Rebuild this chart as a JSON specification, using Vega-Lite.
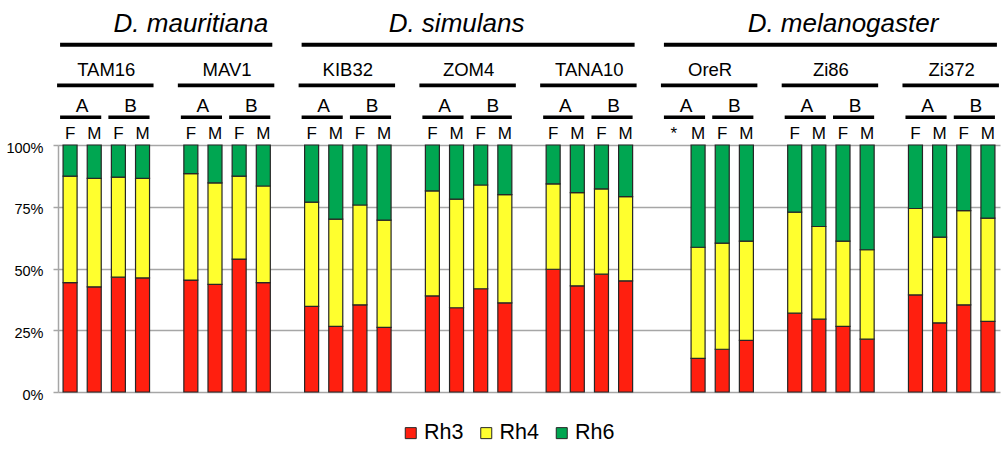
{
  "$schema": "https://vega.github.io/schema/vega-lite/v6.json",
  "padding": {"left": 5, "top": 0, "right": 5, "bottom": 0},
  "background": "white",
  "config": {"view": {"stroke": null}, "font": "Liberation Sans"},
  "datasets": {
    "bars": [
      {"sample": "TAM16 A F", "Rh3": 44.3, "Rh4": 43.1, "Rh6": 12.6},
      {"sample": "TAM16 A M", "Rh3": 42.6, "Rh4": 43.9, "Rh6": 13.5},
      {"sample": "TAM16 B F", "Rh3": 46.5, "Rh4": 40.5, "Rh6": 13.0},
      {"sample": "TAM16 B M", "Rh3": 46.2, "Rh4": 40.3, "Rh6": 13.5},
      {"sample": "MAV1 A F", "Rh3": 45.3, "Rh4": 43.1, "Rh6": 11.6},
      {"sample": "MAV1 A M", "Rh3": 43.6, "Rh4": 41.1, "Rh6": 15.3},
      {"sample": "MAV1 B F", "Rh3": 53.8, "Rh4": 33.6, "Rh6": 12.6},
      {"sample": "MAV1 B M", "Rh3": 44.3, "Rh4": 39.1, "Rh6": 16.6},
      {"sample": "KIB32 A F", "Rh3": 34.7, "Rh4": 42.2, "Rh6": 23.1},
      {"sample": "KIB32 A M", "Rh3": 26.6, "Rh4": 43.4, "Rh6": 30.0},
      {"sample": "KIB32 B F", "Rh3": 35.3, "Rh4": 40.4, "Rh6": 24.3},
      {"sample": "KIB32 B M", "Rh3": 26.2, "Rh4": 43.4, "Rh6": 30.4},
      {"sample": "ZOM4 A F", "Rh3": 38.9, "Rh4": 42.5, "Rh6": 18.6},
      {"sample": "ZOM4 A M", "Rh3": 34.1, "Rh4": 44.0, "Rh6": 21.9},
      {"sample": "ZOM4 B F", "Rh3": 41.8, "Rh4": 42.0, "Rh6": 16.2},
      {"sample": "ZOM4 B M", "Rh3": 36.1, "Rh4": 43.8, "Rh6": 20.1},
      {"sample": "TANA10 A F", "Rh3": 49.7, "Rh4": 34.6, "Rh6": 15.7},
      {"sample": "TANA10 A M", "Rh3": 43.0, "Rh4": 37.7, "Rh6": 19.3},
      {"sample": "TANA10 B F", "Rh3": 47.7, "Rh4": 34.5, "Rh6": 17.8},
      {"sample": "TANA10 B M", "Rh3": 45.0, "Rh4": 34.1, "Rh6": 20.9},
      {"sample": "OreR A M", "Rh3": 13.6, "Rh4": 45.0, "Rh6": 41.4},
      {"sample": "OreR B F", "Rh3": 17.3, "Rh4": 43.0, "Rh6": 39.7},
      {"sample": "OreR B M", "Rh3": 20.9, "Rh4": 40.2, "Rh6": 38.9},
      {"sample": "Zi86 A F", "Rh3": 31.9, "Rh4": 40.9, "Rh6": 27.2},
      {"sample": "Zi86 A M", "Rh3": 29.5, "Rh4": 37.5, "Rh6": 33.0},
      {"sample": "Zi86 B F", "Rh3": 26.6, "Rh4": 34.5, "Rh6": 38.9},
      {"sample": "Zi86 B M", "Rh3": 21.4, "Rh4": 36.2, "Rh6": 42.4},
      {"sample": "Zi372 A F", "Rh3": 39.3, "Rh4": 35.0, "Rh6": 25.7},
      {"sample": "Zi372 A M", "Rh3": 28.0, "Rh4": 34.7, "Rh6": 37.3},
      {"sample": "Zi372 B F", "Rh3": 35.3, "Rh4": 38.1, "Rh6": 26.6},
      {"sample": "Zi372 B M", "Rh3": 28.6, "Rh4": 41.8, "Rh6": 29.6}
    ],
    "species": [
      {"species": "D. mauritiana", "sample": "TAM16 A F", "last": "MAV1 B M", "anchor": "MAV1 A F"},
      {"species": "D. simulans", "sample": "KIB32 A F", "last": "TANA10 B M", "anchor": "ZOM4 A M"},
      {"species": "D. melanogaster", "sample": "OreR A F", "last": "Zi372 B M", "anchor": "Zi86 B F"}
    ],
    "strains": [
      {"strain": "TAM16", "sample": "TAM16 A F", "last": "TAM16 B M"},
      {"strain": "MAV1", "sample": "MAV1 A F", "last": "MAV1 B M"},
      {"strain": "KIB32", "sample": "KIB32 A F", "last": "KIB32 B M"},
      {"strain": "ZOM4", "sample": "ZOM4 A F", "last": "ZOM4 B M"},
      {"strain": "TANA10", "sample": "TANA10 A F", "last": "TANA10 B M"},
      {"strain": "OreR", "sample": "OreR A F", "last": "OreR B M"},
      {"strain": "Zi86", "sample": "Zi86 A F", "last": "Zi86 B M"},
      {"strain": "Zi372", "sample": "Zi372 A F", "last": "Zi372 B M"}
    ],
    "pairs": [
      {"rep": "A", "sample": "TAM16 A F", "last": "TAM16 A M"},
      {"rep": "B", "sample": "TAM16 B F", "last": "TAM16 B M"},
      {"rep": "A", "sample": "MAV1 A F", "last": "MAV1 A M"},
      {"rep": "B", "sample": "MAV1 B F", "last": "MAV1 B M"},
      {"rep": "A", "sample": "KIB32 A F", "last": "KIB32 A M"},
      {"rep": "B", "sample": "KIB32 B F", "last": "KIB32 B M"},
      {"rep": "A", "sample": "ZOM4 A F", "last": "ZOM4 A M"},
      {"rep": "B", "sample": "ZOM4 B F", "last": "ZOM4 B M"},
      {"rep": "A", "sample": "TANA10 A F", "last": "TANA10 A M"},
      {"rep": "B", "sample": "TANA10 B F", "last": "TANA10 B M"},
      {"rep": "A", "sample": "OreR A F", "last": "OreR A M"},
      {"rep": "B", "sample": "OreR B F", "last": "OreR B M"},
      {"rep": "A", "sample": "Zi86 A F", "last": "Zi86 A M"},
      {"rep": "B", "sample": "Zi86 B F", "last": "Zi86 B M"},
      {"rep": "A", "sample": "Zi372 A F", "last": "Zi372 A M"},
      {"rep": "B", "sample": "Zi372 B F", "last": "Zi372 B M"}
    ],
    "samples": [
      {"sample": "TAM16 A F", "sex": "F"}, {"sample": "TAM16 A M", "sex": "M"},
      {"sample": "TAM16 B F", "sex": "F"}, {"sample": "TAM16 B M", "sex": "M"},
      {"sample": "MAV1 A F", "sex": "F"}, {"sample": "MAV1 A M", "sex": "M"},
      {"sample": "MAV1 B F", "sex": "F"}, {"sample": "MAV1 B M", "sex": "M"},
      {"sample": "KIB32 A F", "sex": "F"}, {"sample": "KIB32 A M", "sex": "M"},
      {"sample": "KIB32 B F", "sex": "F"}, {"sample": "KIB32 B M", "sex": "M"},
      {"sample": "ZOM4 A F", "sex": "F"}, {"sample": "ZOM4 A M", "sex": "M"},
      {"sample": "ZOM4 B F", "sex": "F"}, {"sample": "ZOM4 B M", "sex": "M"},
      {"sample": "TANA10 A F", "sex": "F"}, {"sample": "TANA10 A M", "sex": "M"},
      {"sample": "TANA10 B F", "sex": "F"}, {"sample": "TANA10 B M", "sex": "M"},
      {"sample": "OreR A F", "sex": "*"}, {"sample": "OreR A M", "sex": "M"},
      {"sample": "OreR B F", "sex": "F"}, {"sample": "OreR B M", "sex": "M"},
      {"sample": "Zi86 A F", "sex": "F"}, {"sample": "Zi86 A M", "sex": "M"},
      {"sample": "Zi86 B F", "sex": "F"}, {"sample": "Zi86 B M", "sex": "M"},
      {"sample": "Zi372 A F", "sex": "F"}, {"sample": "Zi372 A M", "sex": "M"},
      {"sample": "Zi372 B F", "sex": "F"}, {"sample": "Zi372 B M", "sex": "M"}
    ]
  },
  "spacing": 0,
  "bounds": "flush",
  "resolve": {"legend": {"color": "independent"}},
  "vconcat": [
    {
      "width": 942,
      "height": 145,
      "encoding": {
        "x": {"field": "sample", "type": "nominal", "axis": null,
          "scale": {"type": "band", "paddingInner": 0.42, "paddingOuter": 0.21, "domain": ["TAM16 A F","TAM16 A M","TAM16 B F","TAM16 B M","gap1","MAV1 A F","MAV1 A M","MAV1 B F","MAV1 B M","gap2","KIB32 A F","KIB32 A M","KIB32 B F","KIB32 B M","gap3","ZOM4 A F","ZOM4 A M","ZOM4 B F","ZOM4 B M","gap4","TANA10 A F","TANA10 A M","TANA10 B F","TANA10 B M","gap5","OreR A F","OreR A M","OreR B F","OreR B M","gap6","Zi86 A F","Zi86 A M","Zi86 B F","Zi86 B M","gap7","Zi372 A F","Zi372 A M","Zi372 B F","Zi372 B M"]}}
      },
      "layer": [
        {
          "data": {"name": "species"},
          "mark": {"type": "rule", "color": "black", "strokeWidth": 4, "xOffset": -10, "x2Offset": 9, "yOffset": 26.6},
          "encoding": {
            "x2": {"field": "last"},
            "y": {"datum": "species", "type": "nominal", "axis": null, "scale": {"type": "point", "padding": 0.5, "domain": ["species", "strain", "pair", "sex"]}}
          }
        },
        {
          "data": {"name": "species"},
          "mark": {"type": "text", "fontSize": 26, "fontStyle": "italic", "baseline": "alphabetic", "align": "center", "color": "black", "yOffset": 13.6},
          "encoding": {
            "x": {"field": "anchor", "type": "nominal", "axis": null,
              "scale": {"type": "band", "paddingInner": 0.42, "paddingOuter": 0.21, "domain": ["TAM16 A F","TAM16 A M","TAM16 B F","TAM16 B M","gap1","MAV1 A F","MAV1 A M","MAV1 B F","MAV1 B M","gap2","KIB32 A F","KIB32 A M","KIB32 B F","KIB32 B M","gap3","ZOM4 A F","ZOM4 A M","ZOM4 B F","ZOM4 B M","gap4","TANA10 A F","TANA10 A M","TANA10 B F","TANA10 B M","gap5","OreR A F","OreR A M","OreR B F","OreR B M","gap6","Zi86 A F","Zi86 A M","Zi86 B F","Zi86 B M","gap7","Zi372 A F","Zi372 A M","Zi372 B F","Zi372 B M"]}},
            "y": {"datum": "species", "type": "nominal"},
            "text": {"field": "species"}
          }
        },
        {
          "data": {"name": "strains"},
          "mark": {"type": "rule", "color": "black", "strokeWidth": 3.8, "xOffset": -13, "x2Offset": 11, "yOffset": 30.9},
          "encoding": {
            "x2": {"field": "last"},
            "y": {"datum": "strain", "type": "nominal"}
          }
        },
        {
          "data": {"name": "strains"},
          "mark": {"type": "text", "fontSize": 18.5, "baseline": "alphabetic", "align": "center", "color": "black", "dx": 36.2, "yOffset": 21.6},
          "encoding": {
            "y": {"datum": "strain", "type": "nominal"},
            "text": {"field": "strain"}
          }
        },
        {
          "data": {"name": "pairs"},
          "mark": {"type": "rule", "color": "black", "strokeWidth": 3.5, "xOffset": -10, "x2Offset": 7, "yOffset": 26.7},
          "encoding": {
            "x2": {"field": "last"},
            "y": {"datum": "pair", "type": "nominal"}
          }
        },
        {
          "data": {"name": "pairs"},
          "mark": {"type": "text", "fontSize": 19, "baseline": "alphabetic", "align": "center", "color": "black", "dx": 12.1, "yOffset": 21.1},
          "encoding": {
            "y": {"datum": "pair", "type": "nominal"},
            "text": {"field": "rep"}
          }
        },
        {
          "data": {"name": "samples"},
          "mark": {"type": "text", "fontSize": 17, "baseline": "alphabetic", "align": "center", "color": "black", "yOffset": 12.4},
          "encoding": {
            "y": {"datum": "sex", "type": "nominal"},
            "text": {"field": "sex"}
          }
        }
      ]
    },
    {
      "width": 942,
      "height": 247,
      "data": {"name": "bars"},
      "transform": [{"fold": ["Rh3", "Rh4", "Rh6"], "as": ["receptor", "percent"]}],
      "mark": {"type": "bar", "stroke": "#262626", "strokeWidth": 1.2},
      "encoding": {
        "x": {"field": "sample", "type": "nominal", "axis": null,
          "scale": {"type": "band", "paddingInner": 0.42, "paddingOuter": 0.21, "domain": ["TAM16 A F","TAM16 A M","TAM16 B F","TAM16 B M","gap1","MAV1 A F","MAV1 A M","MAV1 B F","MAV1 B M","gap2","KIB32 A F","KIB32 A M","KIB32 B F","KIB32 B M","gap3","ZOM4 A F","ZOM4 A M","ZOM4 B F","ZOM4 B M","gap4","TANA10 A F","TANA10 A M","TANA10 B F","TANA10 B M","gap5","OreR A F","OreR A M","OreR B F","OreR B M","gap6","Zi86 A F","Zi86 A M","Zi86 B F","Zi86 B M","gap7","Zi372 A F","Zi372 A M","Zi372 B F","Zi372 B M"]}},
        "y": {"field": "percent", "type": "quantitative", "stack": "normalize", "scale": {"domain": [0, 1]},
          "axis": {"values": [0, 0.25, 0.5, 0.75, 1], "format": ".0%", "title": null, "labelFont": "Liberation Sans", "labelFontSize": 14.5, "labelColor": "#000", "labelPadding": 10, "labelOffset": 3, "tickSize": 5, "tickColor": "#a6a6a6", "tickWidth": 1.5, "domainColor": "#a6a6a6", "domainWidth": 1.5, "grid": true, "gridColor": "#a6a6a6", "gridWidth": 1.5}},
        "color": {"field": "receptor", "type": "nominal",
          "scale": {"domain": ["Rh3", "Rh4", "Rh6"], "range": ["#FF1F0F", "#FFFF2E", "#00A651"]},
          "legend": {"title": null, "orient": "none", "legendX": 342, "legendY": 277, "direction": "horizontal", "symbolType": "square", "symbolSize": 121, "symbolStrokeColor": "#262626", "symbolStrokeWidth": 1, "labelFont": "Liberation Sans", "labelFontSize": 21.5, "labelColor": "#000", "labelOffset": 2.5, "columnPadding": 11.5, "padding": 0}},
        "order": {"field": "receptor", "sort": "ascending"}
      }
    }
  ]
}
